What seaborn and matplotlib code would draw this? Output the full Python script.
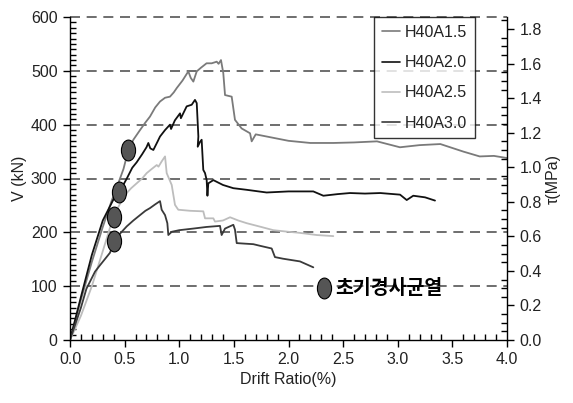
import numpy as np
import pandas as pd
import matplotlib
matplotlib.use("Agg")
import matplotlib.pyplot as plt
import seaborn as sns
from matplotlib.path import Path
from matplotlib.markers import MarkerStyle
from matplotlib.ticker import MultipleLocator
from matplotlib.lines import Line2D

# ---------------- data ----------------
specimens = ["H40A1.5", "H40A2.0", "H40A2.5", "H40A3.0"]
colors = ["#7a7a7a", "#111111", "#bdbdbd", "#3a3a3a"]

d15 = [0, 0.10, 0.20, 0.30, 0.38, 0.442, 0.49, 0.534, 0.58, 0.641, 0.69, 0.732, 0.78, 0.824, 0.87,
       0.915, 0.95, 0.977, 1.03, 1.083, 1.105, 1.129, 1.16, 1.20, 1.25, 1.297, 1.343, 1.36, 1.382, 1.403,
       1.419, 1.48, 1.51, 1.571, 1.648, 1.663, 1.70, 1.80, 2.00, 2.20, 2.41, 2.60, 2.81, 3.02, 3.20,
       3.39, 3.60, 3.75, 3.88, 4.00]
V15 = [0, 75, 145, 210, 258, 291, 318, 353, 372, 390, 404, 415, 432, 443, 450,
       452, 460, 468, 482, 499, 487, 480, 499, 506, 514, 514, 517, 513, 520, 496,
       455, 452, 409, 393, 384, 369, 382, 378, 370, 366, 366, 367, 369, 358, 362,
       364, 350, 341, 342, 338]

d20 = [0, 0.10, 0.20, 0.30, 0.40, 0.46, 0.52, 0.57, 0.61, 0.66, 0.70, 0.717, 0.735, 0.763, 0.80,
       0.824, 0.87, 0.915, 0.925, 0.96, 1.007, 1.015, 1.068, 1.114, 1.144, 1.16, 1.175, 1.169, 1.19, 1.205,
       1.22, 1.236, 1.251, 1.258, 1.266, 1.312, 1.40, 1.495, 1.617, 1.80, 2.00, 2.227, 2.319, 2.45, 2.563,
       2.70, 2.84, 3.021, 3.082, 3.142, 3.25, 3.341]
V20 = [0, 80, 158, 222, 262, 278, 300, 320, 330, 345, 358, 366, 356, 353, 368,
       378, 390, 400, 392, 408, 421, 412, 434, 437, 446, 440, 378, 359, 368, 372,
       316, 310, 297, 268, 291, 297, 288, 282, 279, 274, 276, 276, 268, 271, 273,
       272, 273, 270, 260, 268, 265, 259]

d25 = [0, 0.10, 0.20, 0.30, 0.397, 0.45, 0.519, 0.56, 0.61, 0.66, 0.702, 0.75, 0.794, 0.81, 0.84,
       0.87, 0.885, 0.931, 0.961, 0.991, 1.10, 1.22, 1.236, 1.312, 1.327, 1.40, 1.465, 1.54, 1.617, 1.75,
       1.861, 2.00, 2.105, 2.258, 2.41]
V25 = [0, 45, 100, 165, 229, 250, 273, 282, 291, 300, 310, 318, 325, 322, 332,
       341, 310, 288, 251, 242, 240, 239, 226, 226, 220, 222, 228, 222, 217, 210,
       204, 201, 199, 195, 193]

d30 = [0, 0.10, 0.15, 0.229, 0.275, 0.366, 0.406, 0.46, 0.519, 0.58, 0.641, 0.69, 0.732, 0.78, 0.824,
       0.839, 0.87, 0.891, 0.90, 0.931, 1.00, 1.129, 1.25, 1.373, 1.388, 1.419, 1.495, 1.51, 1.526, 1.60,
       1.678, 1.739, 1.846, 1.876, 1.95, 2.105, 2.227]
V30 = [0, 60, 95, 127, 139, 162, 183, 198, 211, 222, 232, 240, 245, 252, 258,
       242, 232, 217, 195, 201, 204, 207, 210, 212, 195, 207, 214, 205, 180, 179,
       178, 175, 170, 154, 151, 146, 135]

crack_x = [0.534, 0.445, 0.40, 0.405]
crack_V = [353, 275, 229, 183]
key_x = [2.325]
key_V = [96]
key_label = "초기경사균열"

x_ticks = [0.0, 0.5, 1.0, 1.5, 2.0, 2.5, 3.0, 3.5, 4.0]
v_ticks = [0, 100, 200, 300, 400, 500, 600]
tau_ticks = [0.0, 0.2, 0.4, 0.6, 0.8, 1.0, 1.2, 1.4, 1.6, 1.8]
tau_max = 1.87

# ---------------- frame ----------------
frames = []
for name, d, v in zip(specimens, [d15, d20, d25, d30], [V15, V20, V25, V30]):
    frames.append(pd.DataFrame({"drift": d, "V": v, "spec": name}))
df = pd.concat(frames, ignore_index=True)

sns.set_theme(style="white")
plt.rcParams["font.family"] = ["Liberation Sans", "DejaVu Sans"]

FS = 11.5
fig = plt.figure(figsize=(5.73, 4.03), dpi=100)
ax = fig.add_axes([70 / 573, 1 - 340 / 403, 437 / 573, 323 / 403])

# grid lines behind
for v in v_ticks[1:]:
    ax.axhline(v, color="#555555", lw=1.2, ls=(0, (6, 4)), zorder=0.5, clip_on=False)

sns.lineplot(data=df, x="drift", y="V", hue="spec", palette=dict(zip(specimens, colors)),
             sort=False, estimator=None, ax=ax, legend=False, lw=1.3, zorder=2)

# ellipse marker
circ = Path.unit_circle()
ell = Path(circ.vertices * np.array([0.68, 1.0]), circ.codes)
mk = MarkerStyle(ell)

crack_df = pd.DataFrame({"x": crack_x, "V": crack_V})
sns.scatterplot(data=crack_df, x="x", y="V", marker=mk, s=225, color="#555555",
                edgecolor="black", linewidth=0.8, ax=ax, zorder=5)
key_df = pd.DataFrame({"x": key_x, "V": key_V})
sns.scatterplot(data=key_df, x="x", y="V", marker=mk, s=225, color="#555555",
                edgecolor="black", linewidth=0.8, ax=ax, zorder=5)
ax.annotate(key_label, xy=(key_x[0], key_V[0]), xytext=(8, 0), textcoords="offset points",
            va="center", ha="left", fontsize=14, fontweight="bold",
            family=["Noto Sans CJK KR", "DejaVu Sans"], color="black", zorder=6)

ax.set_xlim(0, 4.0)
ax.set_ylim(0, 600)
ax.set_xticks(x_ticks)
ax.set_xticklabels([f"{t:.1f}" for t in x_ticks])
ax.set_yticks(v_ticks)
ax.xaxis.set_minor_locator(MultipleLocator(0.1))
ax.yaxis.set_minor_locator(MultipleLocator(10))
ax.tick_params(axis="both", which="major", direction="out", length=5, width=1, color="black",
               labelsize=FS, labelcolor="#222222", bottom=True, left=True, pad=4)
ax.tick_params(axis="both", which="minor", direction="in", length=4, width=1, color="black",
               bottom=True, left=True)
ax.set_xlabel("Drift Ratio(%)", fontsize=FS, color="#222222", labelpad=3)
ax.set_ylabel("V (kN)", fontsize=FS, color="#222222", labelpad=3)
for s in ["left", "bottom"]:
    ax.spines[s].set_color("black")
    ax.spines[s].set_linewidth(1.0)
ax.spines["top"].set_visible(False)
ax.spines["right"].set_visible(False)

ax2 = ax.twinx()
ax2.set_ylim(0, tau_max)
ax2.set_yticks(tau_ticks)
ax2.set_yticklabels([f"{t:.1f}" for t in tau_ticks])
ax2.yaxis.set_minor_locator(MultipleLocator(0.05))
ax2.tick_params(axis="y", which="major", direction="out", length=5, width=1, color="black",
                labelsize=FS, labelcolor="#222222", right=True, pad=4)
ax2.tick_params(axis="y", which="minor", direction="in", length=4, width=1, color="black", right=True)
ax2.set_ylabel("τ(MPa)", fontsize=FS, color="#222222", labelpad=3)
for s in ["top", "left", "bottom"]:
    ax2.spines[s].set_visible(False)
ax2.spines["right"].set_color("black")
ax2.spines["right"].set_linewidth(1.0)
ax2.grid(False)

handles = [Line2D([], [], color=c, lw=1.2) for c in colors]
leg = ax.legend(handles, specimens, loc="upper left", bbox_to_anchor=(304 / 437, 1.0),
                frameon=True, fancybox=False, edgecolor="black", fontsize=FS,
                handlelength=1.1, handletextpad=0.3, labelspacing=0.95, borderpad=0.5,
                borderaxespad=0.0)
leg.get_frame().set_linewidth(1.0)
leg.set_zorder(10)
for t in leg.get_texts():
    t.set_color("#222222")

fig.savefig("out.png", dpi=100)
